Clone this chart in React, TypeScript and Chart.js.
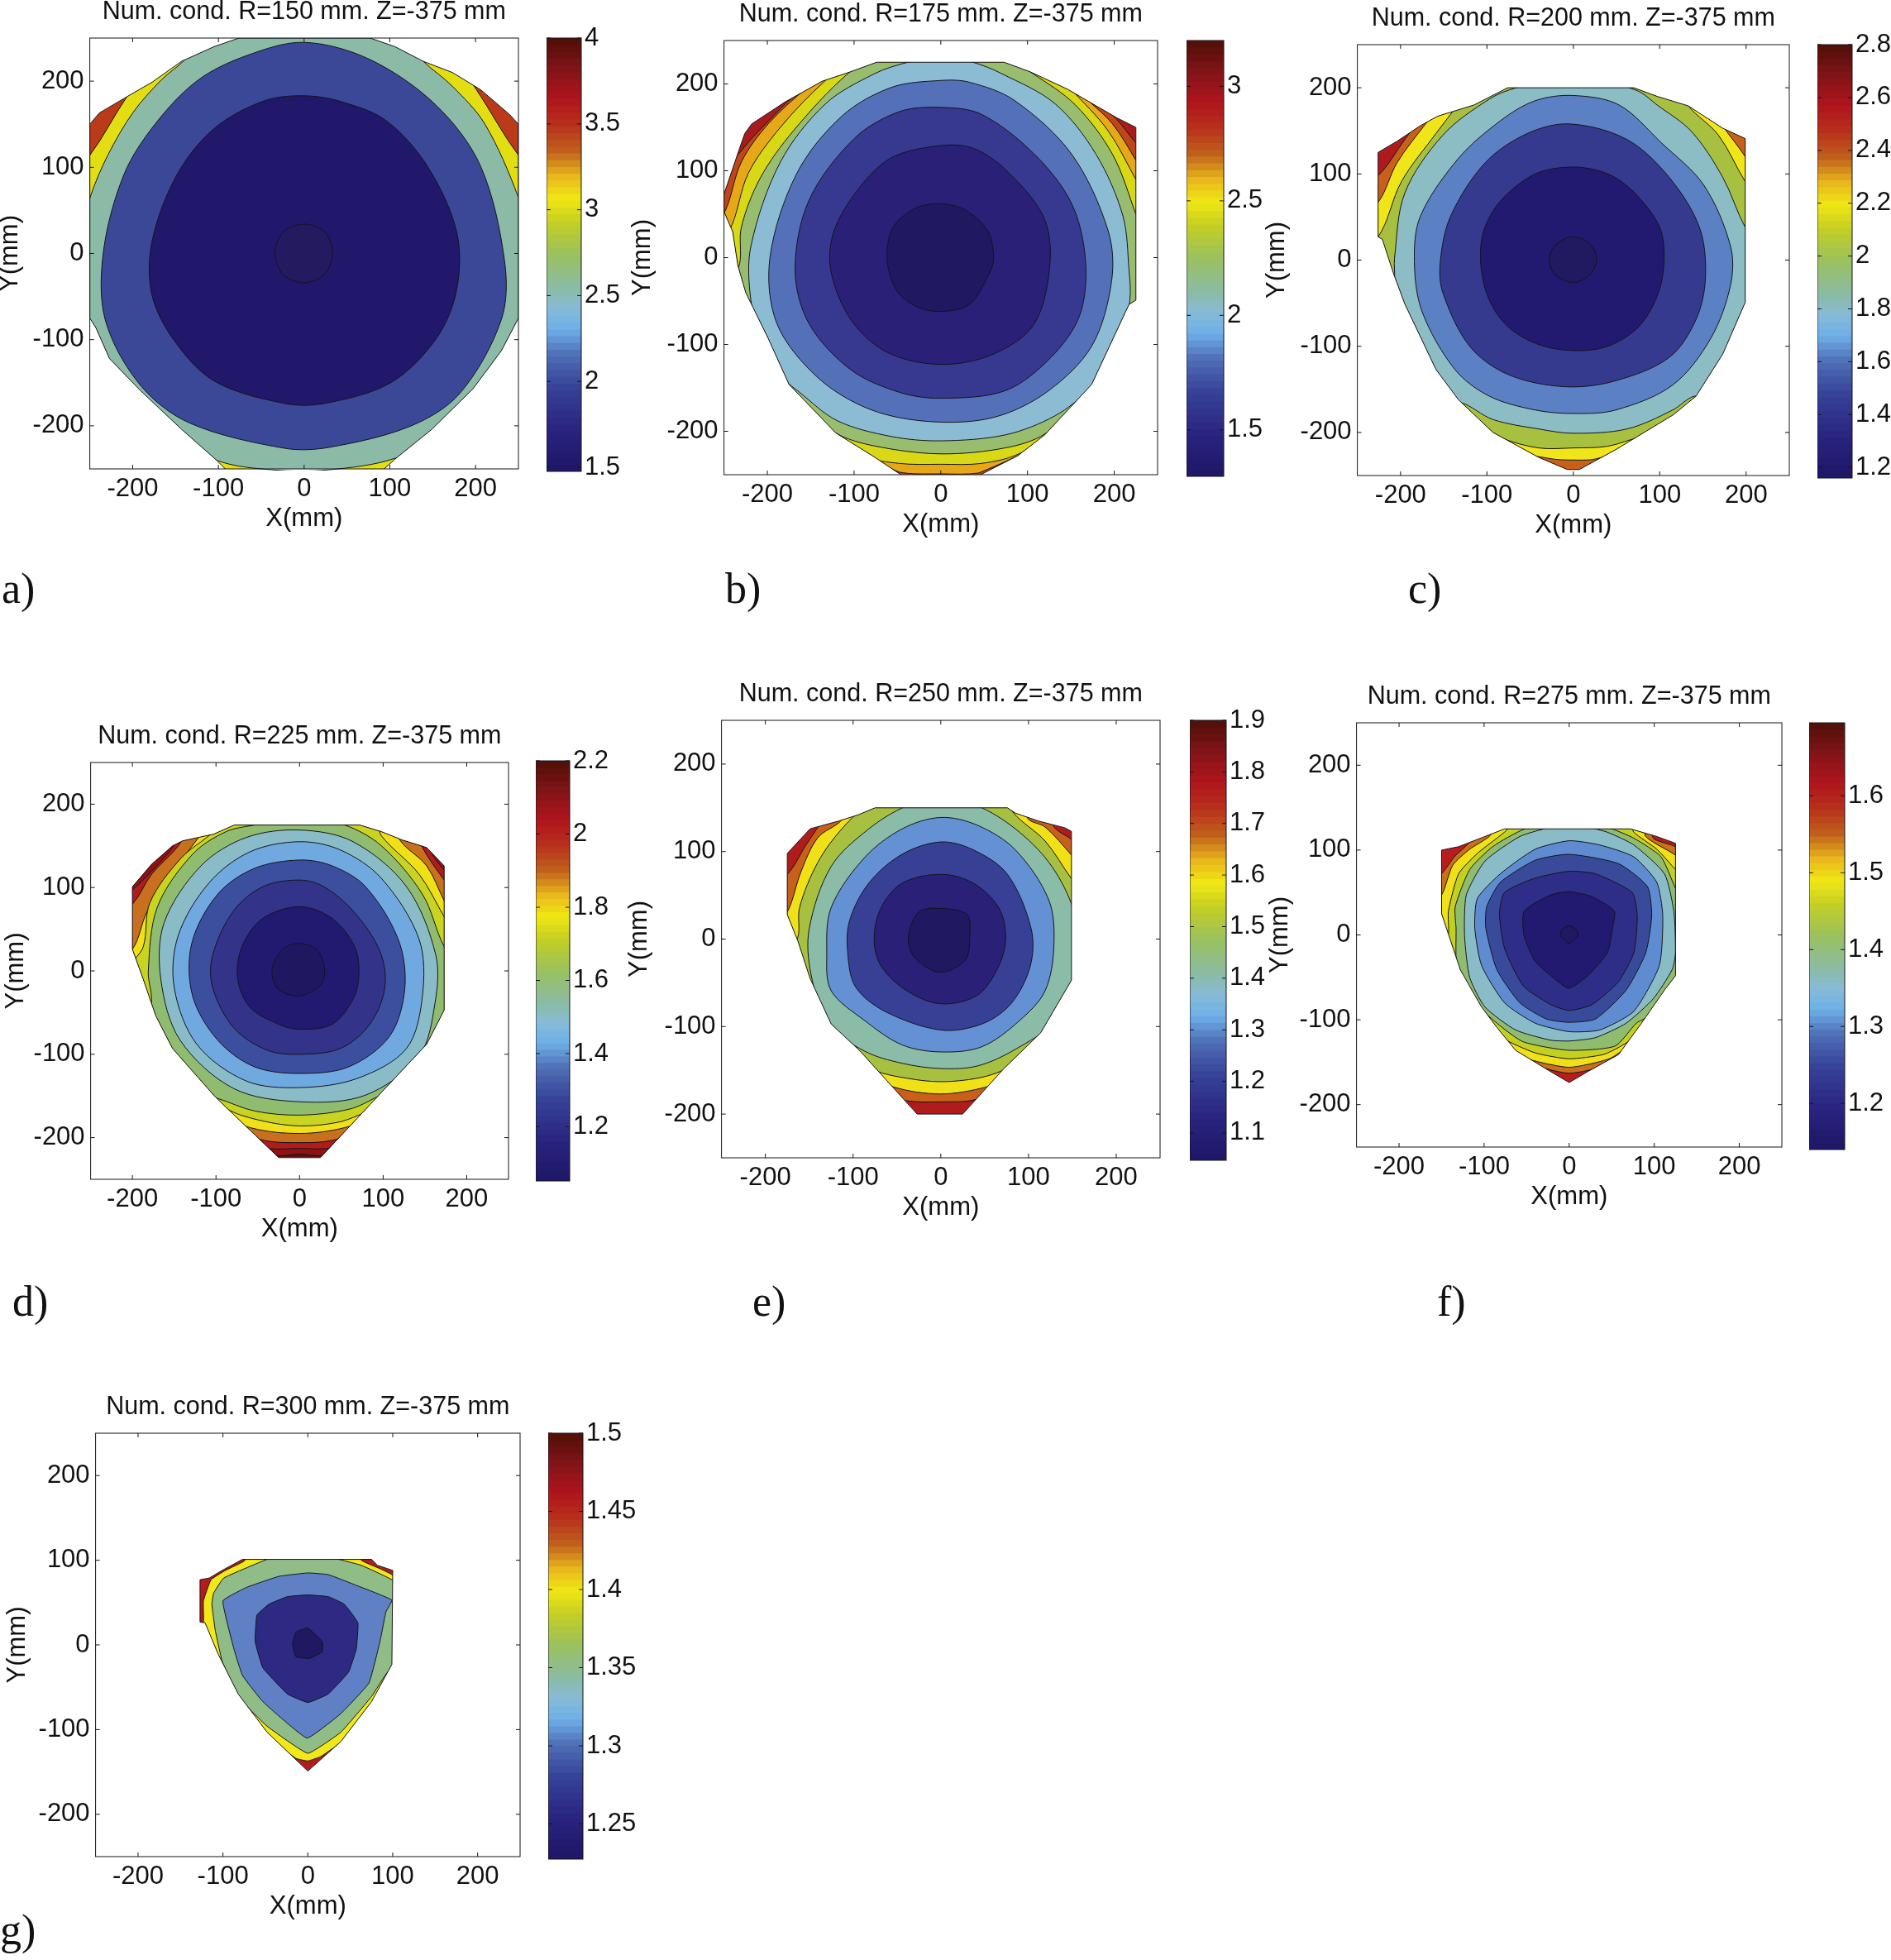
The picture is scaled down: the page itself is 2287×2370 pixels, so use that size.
import React, { useEffect, useRef } from "react";
import { Chart, registerables } from "chart.js";

Chart.register(...registerables);

type Pt = [number, number];

const xTickValues = [-200, -100, 0, 100, 200];
const yTickValues = [-200, -100, 0, 100, 200];

// ---- Panel a ----
const aDomain: Pt[] = [[-76,250],[-105,240],[-143,223],[-177,199],[-210,180],[-239,163],[-250,150],[-250,-75],[-243,-86],[-227,-122],[-191,-159],[-143,-204],[-102,-240],[-90,-252],[91,-252],[108,-237],[149,-204],[197,-157],[230,-113],[250,-75],[250,150],[240,161],[206,190],[173,210],[139,223],[106,240],[77,250]];
const aLevels: Pt[][] = [
  [[0,320],[150,260],[201,190],[250,114],[285,80],[300,-100],[200,-300],[-200,-300],[-300,-100],[-285,80],[-250,114],[-208,180],[-150,260]],
  [[0,285],[100,265],[139,223],[173,194],[211,150],[250,65],[275,-20],[275,-110],[200,-190],[108,-237],[29,-251],[-38,-251],[-102,-240],[-200,-190],[-275,-110],[-275,-20],[-249,67],[-229,114],[-200,163],[-167,201],[-141,223],[-100,265]],
  [[0,245],[-66,230],[-124,201],[-174,150],[-210,92],[-234,3],[-232,-77],[-191,-153],[-133,-197],[-23,-226],[29,-225],[125,-200],[182,-162],[230,-77],[234,-10],[206,101],[154,172],[77,225]],
  [[0,183],[-47,177],[-105,145],[-148,92],[-177,16],[-178,-46],[-153,-99],[-105,-148],[-23,-174],[24,-174],[101,-150],[154,-99],[178,-42],[178,25],[144,101],[96,154],[44,176]],
  [[0,34],[24,25],[33,1],[24,-24],[0,-34],[-24,-25],[-34,1],[-24,25]],
];
const aColors = ["#bb3a1a","#e3de12","#8bbba7","#3a4897","#21176b","#231a60"];

// ---- Panel b ----
const bDomain: Pt[] = [[-74,225],[-104,214],[-137,203],[-180,179],[-218,154],[-226,143],[-232,126],[-250,73],[-250,53],[-240,30],[-234,-9],[-225,-40],[-199,-93],[-175,-146],[-121,-202],[-76,-230],[-43,-252],[42,-252],[89,-228],[120,-204],[174,-146],[217,-54],[225,-49],[225,150],[203,161],[146,194],[103,214],[73,225]];
const bLevels: Pt[][] = [
  [[0,300],[170,190],[203,159],[225,132],[245,110],[270,0],[270,-280],[-270,-280],[-270,0],[-245,100],[-226,128],[-198,158],[-170,185]],
  [[0,300],[120,230],[170,181],[198,154],[225,112],[260,50],[270,-80],[190,-170],[44,-248],[0,-249],[-48,-247],[-190,-170],[-270,-80],[-270,20],[-248,55],[-230,110],[-199,154],[-154,196],[-110,230]],
  [[0,300],[106,240],[151,193],[193,146],[225,90],[265,20],[265,-80],[170,-180],[90,-226],[47,-237],[0,-238],[-48,-237],[-90,-228],[-170,-180],[-270,-80],[-270,10],[-244,31],[-222,97],[-185,150],[-133,204],[-80,245]],
  [[0,260],[60,240],[106,212],[155,176],[198,119],[225,50],[250,-20],[240,-80],[180,-150],[120,-203],[75,-219],[0,-226],[-76,-217],[-121,-202],[-190,-150],[-250,-60],[-232,-7],[-230,35],[-208,92],[-170,146],[-107,212],[-60,240]],
  [[0,232],[37,225],[70,212],[132,177],[179,119],[210,48],[217,-14],[218,-49],[205,-110],[172,-151],[132,-182],[75,-204],[0,-211],[-57,-206],[-119,-188],[-163,-155],[-180,-140],[-205,-100],[-219,-49],[-219,13],[-185,110],[-133,177],[-76,212],[-38,225]],
  [[0,204],[-57,196],[-114,163],[-166,97],[-197,0],[-189,-76],[-142,-138],[-81,-175],[-10,-189],[61,-184],[122,-155],[174,-102],[197,-27],[193,31],[151,119],[85,181],[33,202]],
  [[0,173],[-48,168],[-100,137],[-152,66],[-168,-14],[-152,-76],[-104,-129],[-48,-155],[0,-162],[75,-153],[127,-115],[160,-67],[167,-5],[151,62],[108,119],[47,165]],
  [[0,129],[-57,115],[-95,79],[-123,31],[-127,-14],[-104,-71],[-62,-109],[0,-123],[61,-111],[108,-76],[126,-5],[118,48],[75,101],[37,126]],
  [[0,62],[-29,57],[-55,35],[-62,0],[-52,-36],[-29,-56],[0,-62],[33,-54],[56,-18],[61,0],[54,31],[28,55]],
];
const bColors = ["#a81a1c","#c0451a","#e6a818","#d8d816","#99bd6e","#8cbcd4","#5470b8","#36398f","#2a2078","#201860"];

// ---- Panel c ----
const cDomain: Pt[] = [[-76,200],[-115,180],[-157,167],[-177,156],[-204,138],[-226,125],[-226,27],[-221,24],[-208,-16],[-195,-51],[-159,-127],[-133,-162],[-93,-200],[-40,-229],[-7,-243],[7,-243],[49,-220],[115,-180],[142,-158],[173,-109],[199,-49],[199,141],[173,153],[133,179],[97,190],[70,200]];
const cLevels: Pt[][] = [
  [[0,300],[300,200],[300,-300],[-300,-300],[-300,40],[-226,98],[-195,140],[-150,200]],
  [[0,280],[130,230],[173,156],[199,120],[240,50],[240,-100],[110,-200],[29,-230],[0,-232],[-29,-230],[-110,-210],[-260,-50],[-260,40],[-226,67],[-204,113],[-171,158],[-130,210]],
  [[0,270],[100,230],[133,179],[168,145],[199,91],[240,30],[240,-100],[150,-190],[78,-205],[40,-216],[0,-218],[-40,-218],[-82,-207],[-170,-170],[-250,-50],[-250,20],[-226,27],[-199,91],[-159,147],[-137,176],[-100,230]],
  [[0,215],[73,197],[97,180],[137,149],[173,96],[199,38],[215,20],[215,-50],[170,-160],[140,-158],[115,-174],[62,-196],[0,-201],[-40,-196],[-93,-185],[-131,-165],[-150,-170],[-190,-120],[-215,-80],[-207,-22],[-207,2],[-195,78],[-151,145],[-97,187],[-66,200]],
  [[0,191],[-44,185],[-84,162],[-133,118],[-177,51],[-184,-2],[-175,-60],[-137,-127],[-97,-158],[-44,-174],[0,-178],[49,-174],[115,-145],[159,-91],[182,-29],[182,16],[151,87],[102,136],[53,180]],
  [[-4,158],[-53,147],[-102,113],[-142,51],[-154,-2],[-151,-38],[-120,-100],[-75,-133],[-9,-147],[49,-140],[111,-113],[142,-69],[153,-20],[146,38],[111,96],[62,140]],
  [[0,108],[-44,100],[-84,69],[-104,33],[-107,-7],[-97,-47],[-75,-78],[-40,-98],[0,-105],[40,-100],[75,-78],[97,-42],[105,-2],[100,38],[71,78],[40,100]],
  [[0,27],[20,18],[27,0],[18,-18],[0,-26],[-20,-18],[-28,0],[-20,18]],
];
const cColors = ["#b01a1c","#c8601c","#f0e518","#a8c040","#8cbcc4","#5c80c4","#363a8e","#211a70","#221a60"];

// ---- Panel d ----
const dDomain: Pt[] = [[-78,175],[-103,164],[-140,156],[-152,150],[-177,128],[-200,101],[-200,26],[-187,-10],[-172,-54],[-152,-93],[-101,-151],[-25,-224],[25,-224],[93,-151],[152,-88],[173,-47],[173,126],[152,148],[123,157],[98,167],[72,175]];
const dLevels: Pt[][] = [
  [[0,250],[190,190],[240,60],[215,-90],[70,-205],[32,-221],[0,-220],[-32,-221],[-70,-205],[-230,-70],[-240,75],[-205,105],[-175,130],[-160,150],[-120,210]],
  [[0,240],[140,190],[157,143],[173,121],[215,70],[215,-80],[80,-195],[39,-212],[0,-213],[-42,-212],[-80,-195],[-225,-60],[-235,70],[-200,97],[-172,125],[-152,148],[-120,200]],
  [[0,230],[130,190],[147,148],[173,109],[210,60],[210,-70],[90,-180],[44,-202],[0,-206],[-48,-202],[-90,-180],[-220,-50],[-230,60],[-200,80],[-177,116],[-145,150],[-120,190]],
  [[0,210],[110,190],[120,157],[152,126],[173,84],[205,20],[200,-80],[100,-170],[54,-188],[0,-195],[-59,-188],[-110,-165],[-210,-50],[-220,20],[-200,26],[-182,72],[-147,126],[-123,157],[-100,190]],
  [[0,200],[90,185],[98,162],[143,116],[173,65],[200,20],[200,-60],[120,-150],[71,-173],[44,-182],[0,-186],[-44,-180],[-86,-166],[-130,-130],[-195,-50],[-205,0],[-187,29],[-179,82],[-142,135],[-103,167],[-85,190]],
  [[0,185],[54,175],[98,150],[147,92],[173,29],[185,20],[185,-60],[130,-130],[93,-151],[59,-166],[0,-173],[-54,-168],[-98,-153],[-130,-145],[-180,-70],[-177,-34],[-181,0],[-170,77],[-128,140],[-88,167],[-54,175]],
  [[0,169],[-64,160],[-118,126],[-162,58],[-166,-10],[-143,-83],[-79,-141],[0,-157],[79,-149],[143,-102],[162,-39],[163,19],[128,101],[64,155]],
  [[0,155],[-59,143],[-108,106],[-145,43],[-150,-20],[-123,-88],[-64,-132],[0,-140],[69,-129],[128,-93],[147,-30],[143,38],[98,111],[49,145]],
  [[0,133],[-54,123],[-98,92],[-129,33],[-128,-30],[-98,-83],[-54,-115],[0,-123],[59,-115],[108,-78],[126,-20],[118,38],[79,101],[39,126]],
  [[0,109],[-44,101],[-79,72],[-104,19],[-104,-20],[-79,-68],[-39,-95],[0,-100],[49,-93],[84,-64],[102,-20],[96,24],[64,72],[29,101]],
  [[0,77],[-44,63],[-69,29],[-74,-10],[-59,-44],[-25,-64],[0,-70],[39,-64],[64,-34],[71,-5],[66,29],[39,63]],
  [[0,33],[22,24],[30,0],[25,-17],[0,-30],[-25,-22],[-33,1],[-20,26]],
];
const dColors = ["#5a1010","#8e1414","#b01c1c","#c8701e","#f0e018","#c8d420","#90bc70","#8abcc8","#70a8e0","#3c4e9e","#33338a","#221a70","#1f1860"];

// ---- Panel e ----
const eDomain: Pt[] = [[-75,150],[-94,142],[-116,135],[-149,126],[-175,98],[-175,28],[-163,-2],[-149,-45],[-125,-97],[-92,-128],[-27,-200],[25,-200],[71,-149],[114,-107],[142,-59],[149,-47],[149,123],[142,127],[111,135],[85,144],[76,150]];
const eLevels: Pt[][] = [
  [[0,220],[120,170],[128,130],[149,114],[180,90],[190,-60],[70,-170],[37,-184],[0,-186],[-37,-185],[-70,-175],[-200,-60],[-200,60],[-175,74],[-154,107],[-140,128],[-120,160]],
  [[0,210],[90,170],[99,138],[119,128],[149,96],[180,60],[180,-60],[85,-155],[52,-169],[0,-177],[-54,-169],[-90,-150],[-190,-40],[-190,20],[-175,31],[-159,78],[-140,116],[-113,136],[-90,175]],
  [[0,190],[70,170],[83,144],[119,112],[149,69],[172,40],[165,-40],[118,-125],[71,-150],[42,-159],[0,-163],[-39,-159],[-75,-150],[-135,-115],[-178,-20],[-163,2],[-161,36],[-140,88],[-111,128],[-80,155]],
  [[0,160],[42,152],[85,126],[123,88],[149,40],[158,-10],[152,-40],[128,-95],[85,-126],[42,-145],[0,-148],[-44,-142],[-87,-128],[-128,-97],[-148,-40],[-150,12],[-125,83],[-82,126],[-39,152]],
  [[0,139],[-44,126],[-87,93],[-125,36],[-130,-17],[-125,-59],[-87,-93],[-44,-121],[0,-129],[47,-123],[90,-93],[119,-59],[129,-7],[123,45],[85,102],[42,130]],
  [[0,111],[-44,97],[-82,64],[-104,21],[-106,-17],[-97,-55],[-63,-83],[0,-104],[47,-97],[80,-74],[102,-31],[103,12],[76,74],[37,102]],
  [[0,74],[-44,64],[-68,36],[-76,0],[-68,-31],[-39,-59],[0,-74],[42,-64],[66,-31],[74,2],[66,36],[37,64]],
  [[0,35],[-25,31],[-37,2],[-30,-21],[-1,-38],[28,-24],[33,2],[30,28]],
];
const eColors = ["#b01c1c","#c8601c","#f0e018","#a8c040","#8abca8","#6490d4","#384096","#2a2078","#201860"];

// ---- Panel f ----
const fDomain: Pt[] = [[-76,125],[-99,116],[-130,104],[-150,100],[-150,25],[-142,1],[-128,-41],[-103,-85],[-85,-109],[-63,-136],[-22,-161],[0,-174],[22,-161],[58,-141],[85,-104],[112,-65],[125,-48],[125,108],[103,116],[72,125]];
const fLevels: Pt[][] = [
  [[0,170],[90,150],[99,114],[125,104],[150,80],[150,-60],[60,-145],[25,-159],[0,-163],[-22,-159],[-60,-145],[-165,-20],[-170,60],[-150,72],[-135,92],[-117,109],[-90,140]],
  [[0,170],[85,145],[90,116],[125,94],[150,70],[150,-50],[70,-130],[47,-146],[0,-156],[-49,-146],[-75,-130],[-160,-20],[-165,40],[-150,47],[-137,82],[-117,101],[-94,116],[-75,140]],
  [[0,160],[70,135],[76,121],[103,101],[125,77],[150,50],[145,-50],[85,-115],[61,-131],[40,-141],[0,-146],[-40,-139],[-79,-121],[-115,-85],[-150,-10],[-142,1],[-142,28],[-130,72],[-108,96],[-85,114],[-74,123],[-60,140]],
  [[0,135],[47,126],[76,114],[108,92],[125,55],[145,20],[140,-45],[95,-95],[79,-104],[54,-131],[0,-136],[-54,-126],[-85,-104],[-115,-75],[-132,-40],[-133,8],[-134,33],[-117,77],[-90,104],[-52,125]],
  [[0,131],[22,127],[45,121],[76,106],[112,72],[123,28],[125,-21],[121,-41],[99,-75],[67,-104],[31,-121],[0,-125],[-22,-124],[-63,-112],[-99,-85],[-117,-50],[-123,-1],[-121,47],[-99,87],[-58,116],[-22,127]],
  [[0,111],[-40,101],[-81,72],[-108,43],[-111,8],[-103,-36],[-76,-80],[-40,-104],[0,-114],[36,-112],[76,-90],[106,-36],[110,23],[103,62],[76,92],[36,106]],
  [[0,95],[-40,88],[-81,62],[-97,33],[-98,8],[-85,-41],[-58,-80],[-27,-99],[0,-103],[31,-99],[67,-65],[90,-21],[97,23],[92,57],[58,84]],
  [[0,75],[-40,67],[-76,50],[-82,25],[-76,-16],[-54,-60],[-22,-82],[0,-89],[27,-82],[58,-55],[76,-21],[80,23],[74,50],[31,72]],
  [[0,51],[-22,47],[-53,28],[-53,-1],[-40,-31],[-13,-55],[0,-63],[22,-48],[45,-21],[51,8],[53,28],[27,45]],
  [[0,11],[9,6],[10,-1],[0,-10],[-10,-1],[-9,6]],
];
const fColors = ["#b81c1c","#c8701c","#f0e018","#c4d020","#90bc70","#8abcc8","#5f8cd0","#3a4a9b","#2e2e88","#211a70","#201860"];

// ---- Panel g ----
const gDomain: Pt[] = [[-77,101],[-101,88],[-116,79],[-127,77],[-127,27],[-121,26],[-106,-10],[-82,-58],[-48,-103],[0,-149],[39,-114],[75,-67],[99,-23],[100,88],[82,94],[75,101]];
const gLevels: Pt[][] = [
  [[0,130],[60,120],[63,100],[85,90],[99,83],[120,60],[120,-30],[60,-100],[15,-132],[0,-137],[-14,-134],[-70,-90],[-125,-10],[-130,20],[-123,27],[-123,52],[-114,77],[-97,88],[-75,99],[-60,120]],
  [[0,112],[29,103],[63,94],[99,77],[115,60],[115,-20],[94,-32],[75,-61],[39,-103],[0,-128],[-48,-96],[-77,-67],[-90,-45],[-101,-19],[-109,17],[-113,48],[-111,61],[-99,79],[-43,103]],
  [[0,85],[-34,81],[-72,68],[-100,52],[-87,-5],[-77,-36],[-53,-67],[-1,-110],[39,-81],[72,-45],[85,4],[92,39],[99,53],[58,70],[24,83]],
  [[0,59],[-24,57],[-46,48],[-60,35],[-62,4],[-53,-27],[-24,-58],[0,-68],[24,-58],[48,-32],[57,-5],[59,26],[43,48],[24,57]],
  [[0,20],[17,4],[17,-8],[2,-16],[-14,-14],[-18,1],[-14,15]],
];
const gColors = ["#b41c1c","#f0e818","#90bc88","#5f80c4","#2e2a84","#201860"];

// ---- Colour bar tick values ----
const aBarTicks = [1.5, 2, 2.5, 3, 3.5, 4];
const bBarTicks = [1.5, 2, 2.5, 3];
const cBarTicks = [1.2, 1.4, 1.6, 1.8, 2, 2.2, 2.4, 2.6, 2.8];
const dBarTicks = [1.2, 1.4, 1.6, 1.8, 2, 2.2];
const eBarTicks = [1.1, 1.2, 1.3, 1.4, 1.5, 1.6, 1.7, 1.8, 1.9];
const fBarTicks = [1.2, 1.3, 1.4, 1.5, 1.6];
const gBarTicks = [1.25, 1.3, 1.35, 1.4, 1.45, 1.5];

// Colour map
const mapStops: [number, number, number, number][] = [
  [0, 30, 22, 102], [0.1, 42, 36, 128], [0.2, 56, 69, 154], [0.27, 79, 111, 182], [0.33, 111, 176, 232],
  [0.38, 136, 187, 212], [0.42, 138, 187, 168], [0.5, 153, 192, 96], [0.58, 200, 208, 32], [0.63, 240, 232, 20],
  [0.68, 232, 184, 28], [0.74, 192, 96, 28], [0.8, 184, 48, 28], [0.86, 176, 20, 28], [0.93, 128, 20, 24], [1, 80, 16, 8],
];
const barSteps = 64;

function mapColor(t: number): string {
  for (let i = 1; i < mapStops.length; i++) {
    if (t <= mapStops[i][0]) {
      const a = mapStops[i - 1], b = mapStops[i];
      const f = (t - a[0]) / (b[0] - a[0]);
      return `rgb(${[1, 2, 3].map((k) => Math.round(a[k] + (b[k] - a[k]) * f)).join(",")})`;
    }
  }
  return "rgb(80,16,8)";
}

const FONT = "'Liberation Sans', Arial, sans-serif";
const TICK_SIZE = 31;
const TITLE_SIZE = 30.5;
const TOP_H = 52;
const BOTTOM_H = 79;
const RIGHT_PAD = 6;
const LINE = "#14141c";

type Panel = {
  title: string; letter: string; letterX: number; letterBase: number;
  domain: Pt[]; levels: Pt[][]; colors: string[]; tension: number;
  l: number; t: number; w: number; h: number; yGap: number;
  barL: number; barT: number; barW: number; barH: number; barMin: number; barMax: number; barTicks: number[]; barLabelW: number;
};

const panels: Panel[] = [
  { title: "Num. cond. R=150 mm. Z=-375 mm", letter: "a)", letterX: 2, letterBase: 730, domain: aDomain, levels: aLevels, colors: aColors, tension: 0.33,
    l: 108.5, t: 45.5, w: 518.5, h: 521, yGap: 96, barL: 660.5, barT: 45.5, barW: 42, barH: 523.5, barMin: 1.476, barMax: 4, barTicks: aBarTicks, barLabelW: 80 },
  { title: "Num. cond. R=175 mm. Z=-375 mm", letter: "b)", letterX: 877, letterBase: 730, domain: bDomain, levels: bLevels, colors: bColors, tension: 0.33,
    l: 875.5, t: 49, w: 524.5, h: 524.5, yGap: 98, barL: 1434.5, barT: 49, barW: 44.5, barH: 527, barMin: 1.297, barMax: 3.2, barTicks: bBarTicks, barLabelW: 80 },
  { title: "Num. cond. R=200 mm. Z=-375 mm", letter: "c)", letterX: 1703, letterBase: 730, domain: cDomain, levels: cLevels, colors: cColors, tension: 0.33,
    l: 1641.5, t: 53.5, w: 522, h: 521, yGap: 97, barL: 2197.5, barT: 53.5, barW: 42, barH: 524, barMin: 1.16, barMax: 2.8, barTicks: cBarTicks, barLabelW: 47 },
  { title: "Num. cond. R=225 mm. Z=-375 mm", letter: "d)", letterX: 15, letterBase: 1592, domain: dDomain, levels: dLevels, colors: dColors, tension: 0.33,
    l: 109.5, t: 921.5, w: 505, h: 504, yGap: 90, barL: 648, barT: 920, barW: 41, barH: 507.5, barMin: 1.052, barMax: 2.2, barTicks: dBarTicks, barLabelW: 80 },
  { title: "Num. cond. R=250 mm. Z=-375 mm", letter: "e)", letterX: 910, letterBase: 1592, domain: eDomain, levels: eLevels, colors: eColors, tension: 0.33,
    l: 873, t: 870.5, w: 530.5, h: 529, yGap: 99, barL: 1438.5, barT: 870.5, barW: 44, barH: 532, barMin: 1.047, barMax: 1.9, barTicks: eBarTicks, barLabelW: 80 },
  { title: "Num. cond. R=275 mm. Z=-375 mm", letter: "f)", letterX: 1738, letterBase: 1592, domain: fDomain, levels: fLevels, colors: fColors, tension: 0.2,
    l: 1641, t: 873.5, w: 514.5, h: 513, yGap: 92, barL: 2188, barT: 873.5, barW: 43, barH: 516, barMin: 1.14, barMax: 1.695, barTicks: fBarTicks, barLabelW: 56 },
  { title: "Num. cond. R=300 mm. Z=-375 mm", letter: "g)", letterX: 0, letterBase: 2352, domain: gDomain, levels: gLevels, colors: gColors, tension: 0.1,
    l: 115.5, t: 1733, w: 513.5, h: 511.5, yGap: 94, barL: 662.5, barT: 1733, barW: 42, barH: 514.5, barMin: 1.2275, barMax: 1.5, barTicks: gBarTicks, barLabelW: 80 },
];

const toXY = (pts: Pt[]) => pts.map(([x, y]) => ({ x, y }));
// The first and last segments only carry the curve's tangent round the closing point
const wrapped = (pts: Pt[]) => toXY([pts[pts.length - 1], ...pts, pts[0], pts[1]]);

// Frame with short inward ticks on all four sides, drawn from the scales
const framePlugin = {
  id: "frame",
  afterDraw(chart: any) {
    const { ctx, chartArea: a, scales } = chart;
    ctx.save();
    ctx.strokeStyle = LINE;
    ctx.lineWidth = 1;
    ctx.strokeRect(a.left, a.top, a.right - a.left, a.bottom - a.top);
    ctx.beginPath();
    const tick = 5;
    if (scales.x && scales.x.type === "linear") {
      for (const t of scales.x.ticks) {
        const p = scales.x.getPixelForValue(t.value);
        ctx.moveTo(p, a.top); ctx.lineTo(p, a.top + tick);
        ctx.moveTo(p, a.bottom); ctx.lineTo(p, a.bottom - tick);
      }
    }
    for (const t of scales.y.ticks) {
      const p = scales.y.getPixelForValue(t.value);
      ctx.moveTo(a.left, p); ctx.lineTo(a.left + tick, p);
      ctx.moveTo(a.right, p); ctx.lineTo(a.right - tick, p);
    }
    ctx.stroke();
    ctx.restore();
  },
};

function domainPath(chart: any, domain: Pt[]) {
  const { ctx, scales } = chart;
  ctx.beginPath();
  domain.forEach(([x, y], i) => {
    const px = scales.x.getPixelForValue(x), py = scales.y.getPixelForValue(y);
    if (i === 0) ctx.moveTo(px, py); else ctx.lineTo(px, py);
  });
  ctx.closePath();
}

// Contour levels are cut by the outline of the sampled region
const domainClip = (domain: Pt[]) => ({
  id: "domainClip",
  beforeDatasetsDraw(chart: any) {
    chart.ctx.save();
    domainPath(chart, domain);
    chart.ctx.clip();
  },
  afterDatasetsDraw(chart: any) {
    const { ctx, chartArea: a } = chart;
    ctx.restore();
    ctx.save();
    ctx.beginPath();
    ctx.rect(a.left, a.top, a.right - a.left, a.bottom - a.top);
    ctx.clip();
    domainPath(chart, domain);
    ctx.strokeStyle = LINE;
    ctx.lineWidth = 1;
    ctx.stroke();
    ctx.restore();
  },
});

function PanelView({ p }: { p: Panel }) {
  const mainRef = useRef<HTMLCanvasElement>(null);
  const barRef = useRef<HTMLCanvasElement>(null);
  const leftW = p.yGap + TICK_SIZE * 0.6;

  useEffect(() => {
    const layers: any[] = [];
    // innermost first: Chart.js paints the last dataset first
    for (let i = p.levels.length - 1; i >= 0; i--) {
      const n = p.levels[i].length;
      layers.push({
        data: wrapped(p.levels[i]), showLine: true, fill: false, borderColor: LINE, borderWidth: 1, pointRadius: 0, tension: p.tension, clip: false,
        segment: { borderColor: (c: any) => (c.p0DataIndex === 0 || c.p0DataIndex === n + 1 ? "rgba(0,0,0,0)" : undefined) },
      });
      layers.push({
        data: wrapped(p.levels[i]), showLine: true, fill: "shape", backgroundColor: p.colors[i + 1],
        borderWidth: 0, pointRadius: 0, tension: p.tension, clip: false,
      });
    }
    layers.push({
      data: toXY(p.domain), showLine: true, fill: "shape", backgroundColor: p.colors[0],
      borderWidth: 0, pointRadius: 0, tension: 0, clip: false,
    });
    const main = new Chart(mainRef.current as any, {
      type: "scatter",
      data: { datasets: layers },
      plugins: [domainClip(p.domain), framePlugin],
      options: {
        animation: false, responsive: false, devicePixelRatio: 1, events: [],
        layout: { padding: { right: RIGHT_PAD, left: 0, top: 0, bottom: 0 } },
        plugins: {
          legend: { display: false }, tooltip: { enabled: false },
          title: { display: true, text: p.title, color: "#111", fullSize: false, font: { family: FONT, size: TITLE_SIZE, weight: "normal" }, padding: { top: 2, bottom: 13.4 } },
        },
        scales: {
          x: {
            type: "linear", min: -250, max: 250, grid: { display: false, drawTicks: false }, border: { display: false },
            afterBuildTicks: (s: any) => { s.ticks = xTickValues.map((value) => ({ value })); },
            afterFit: (s: any) => { s.height = BOTTOM_H; },
            ticks: { color: "#111", font: { family: FONT, size: TICK_SIZE }, padding: 6, maxRotation: 0, autoSkip: false, callback: (v: any) => String(v) },
            title: { display: true, text: "X(mm)", color: "#111", font: { family: FONT, size: TICK_SIZE }, padding: 0 },
          },
          y: {
            type: "linear", min: -250, max: 250, grid: { display: false, drawTicks: false }, border: { display: false },
            afterBuildTicks: (s: any) => { s.ticks = yTickValues.map((value) => ({ value })); },
            afterFit: (s: any) => { s.width = leftW; },
            ticks: { color: "#111", font: { family: FONT, size: TICK_SIZE }, padding: 7, autoSkip: false, callback: (v: any) => String(v) },
            title: { display: true, text: "Y(mm)", color: "#111", font: { family: FONT, size: TICK_SIZE }, padding: 0 },
          },
        },
      } as any,
    } as any);

    const bands: any[] = [];
    for (let i = 0; i < barSteps; i++) {
      const lo = p.barMin + ((p.barMax - p.barMin) * i) / barSteps;
      bands.push({
        data: [[lo, p.barMax]], backgroundColor: mapColor((i + 0.5) / barSteps), borderWidth: 0,
        barPercentage: 1, categoryPercentage: 1, grouped: false, order: barSteps - i,
      });
    }
    const bar = new Chart(barRef.current as any, {
      type: "bar",
      data: { labels: [""], datasets: bands },
      plugins: [framePlugin],
      options: {
        animation: false, responsive: false, devicePixelRatio: 1, events: [],
        layout: { padding: { top: 24, bottom: 24, left: 0, right: 0 } },
        plugins: { legend: { display: false }, tooltip: { enabled: false }, title: { display: false } },
        scales: {
          x: { display: false },
          y: {
            position: "right", type: "linear", min: p.barMin, max: p.barMax, grid: { display: false, drawTicks: false }, border: { display: false },
            afterBuildTicks: (s: any) => { s.ticks = p.barTicks.map((value) => ({ value })); },
            afterFit: (s: any) => { s.width = p.barLabelW; },
            ticks: { color: "#111", font: { family: FONT, size: TICK_SIZE }, padding: 4, autoSkip: false, callback: (v: any) => String(Number(v)) },
          },
        },
      } as any,
    } as any);
    return () => { main.destroy(); bar.destroy(); };
  }, []);

  const mainW = Math.round(leftW + p.w + RIGHT_PAD);
  const mainH = Math.round(TOP_H + p.h + BOTTOM_H);
  const barW = Math.round(p.barW + p.barLabelW);
  const barH = Math.round(p.barH + 48);
  return (
    <>
      <canvas ref={mainRef} width={mainW} height={mainH} style={{ position: "absolute", left: Math.round(p.l - leftW), top: Math.round(p.t - TOP_H), width: mainW, height: mainH }} />
      <canvas ref={barRef} width={barW} height={barH} style={{ position: "absolute", left: Math.round(p.barL), top: Math.round(p.barT - 24), width: barW, height: barH }} />
      <div style={{ position: "absolute", left: p.letterX, top: p.letterBase - 44, fontFamily: "'Liberation Serif', serif", fontSize: 52, lineHeight: "52px", color: "#111" }}>{p.letter}</div>
    </>
  );
}

export default function App() {
  return (
    <div style={{ position: "absolute", left: 0, top: 0, width: 2287, height: 2370, overflow: "hidden", background: "#fff" }}>
      {panels.map((p) => <PanelView key={p.letter} p={p} />)}
    </div>
  );
}
